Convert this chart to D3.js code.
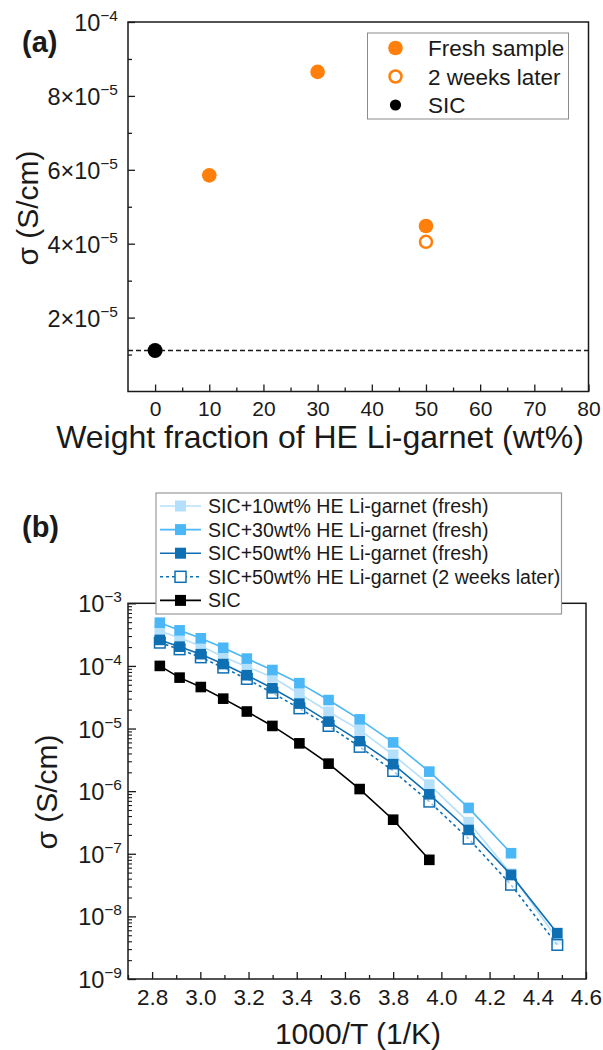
<!DOCTYPE html>
<html>
<head>
<meta charset="utf-8">
<script src="https://cdn.jsdelivr.net/npm/d3@7"></script>
<style>
  body { margin: 0; background: #fff; }
  svg { font-family: "Liberation Sans", Arial, sans-serif; }
</style>
</head>
<body>
<script>
// panel (a): conductivity vs garnet loading
var wtFraction = [10, 30, 50];
var freshSigma = [5.85e-5, 8.65e-5, 4.48e-5];
var agedFraction = [50];
var agedSigma = [4.05e-5];
var sicFraction = [0];
var sicSigma = [1.11e-5];
var aXTicks = [0, 10, 20, 30, 40, 50, 60, 70, 80];
var aYTicks = [2e-5, 4e-5, 6e-5, 8e-5, 1e-4];
var aYTickLabels = [["2\u00d710", "\u22125"], ["4\u00d710", "\u22125"], ["6\u00d710", "\u22125"], ["8\u00d710", "\u22125"], ["10", "\u22124"]];
var aLegend = ["Fresh sample", "2 weeks later", "SIC"];

// panel (b): Arrhenius plot
var invT = [2.832, 2.914, 3.002, 3.095, 3.193, 3.299, 3.411, 3.532, 3.661, 3.800, 3.950, 4.113, 4.289, 4.481];
var sic10 = [3.6e-4, 2.8e-4, 2.08e-4, 1.4e-4, 9.7e-5, 6.6e-5, 3.6e-5, 1.85e-5, 9.5e-6, 3.8e-6, 1.27e-6, 3.2e-7, 4.8e-8, 4.3e-9];
var sic30 = [4.9e-4, 3.7e-4, 2.76e-4, 1.95e-4, 1.31e-4, 8.6e-5, 5.3e-5, 2.85e-5, 1.4e-5, 6.0e-6, 2.05e-6, 5.4e-7, 1.02e-7];
var sic50 = [2.6e-4, 2.03e-4, 1.54e-4, 1.07e-4, 7.1e-5, 4.4e-5, 2.5e-5, 1.29e-5, 6.3e-6, 2.7e-6, 8.9e-7, 2.4e-7, 4.6e-8, 5.4e-9];
var sic50aged = [2.35e-4, 1.84e-4, 1.37e-4, 9.4e-5, 6.2e-5, 3.7e-5, 2.1e-5, 1.1e-5, 5.1e-6, 2.1e-6, 6.8e-7, 1.74e-7, 3.2e-8, 3.5e-9];
var sicOnly = [1.0e-4, 6.5e-5, 4.6e-5, 3.0e-5, 1.87e-5, 1.1e-5, 5.8e-6, 2.75e-6, 1.08e-6, 3.5e-7, 8e-8];
var bXTicks = [2.8, 3.0, 3.2, 3.4, 3.6, 3.8, 4.0, 4.2, 4.4, 4.6];
var bYTicks = [1e-9, 1e-8, 1e-7, 1e-6, 1e-5, 1e-4, 1e-3];
var bYTickLabels = ["\u22129", "\u22128", "\u22127", "\u22126", "\u22125", "\u22124", "\u22123"];
var bLegend = ["SIC+10wt% HE Li-garnet (fresh)", "SIC+30wt% HE Li-garnet (fresh)", "SIC+50wt% HE Li-garnet (fresh)", "SIC+50wt% HE Li-garnet (2 weeks later)", "SIC"];

var orange = "#ff7f0a";
var ink = "#1a1a1a";

var svg = d3.select("body").append("svg")
  .attr("width", 603)
  .attr("height", 1050);

// axis groups get font settings from the svg, not d3's defaults
function plainAxis(g, tickWidth) {
  g.attr("font-family", null).attr("font-size", null);
  g.select(".domain").remove();
  g.selectAll("line").attr("stroke", ink).attr("stroke-width", tickWidth);
}

function superLabel(sel, base, sup, baseSize, supSize) {
  sel.text(null).style("font-size", baseSize + "px");
  sel.append("tspan").text(base);
  sel.append("tspan").style("font-size", supSize + "px").attr("dy", -10).text(sup);
}

// ---------- panel (a) ----------
var xA = d3.scaleLinear().domain([-5, 80]).range([128, 588.5]);
var yA = d3.scaleLinear().domain([0, 1e-4]).range([391.5, 22]);

var gA = svg.append("g");

gA.append("rect")
  .attr("x", xA.range()[0]).attr("y", yA.range()[1])
  .attr("width", xA.range()[1] - xA.range()[0])
  .attr("height", yA.range()[0] - yA.range()[1])
  .attr("fill", "none").attr("stroke", ink).attr("stroke-width", 1.5);

// minor ticks
gA.append("g")
  .attr("transform", "translate(0," + yA.range()[0] + ")")
  .call(d3.axisBottom(xA).tickValues(d3.range(5, 80, 10)).tickSize(-4).tickFormat(""))
  .call(plainAxis, 1.3);
gA.append("g")
  .attr("transform", "translate(" + xA.range()[0] + ",0)")
  .call(d3.axisLeft(yA).tickValues([1e-5, 3e-5, 5e-5, 7e-5, 9e-5]).tickSize(-4).tickFormat(""))
  .call(plainAxis, 1.3);

// major x
gA.append("g")
  .attr("transform", "translate(0," + yA.range()[0] + ")")
  .call(d3.axisBottom(xA).tickValues(aXTicks).tickSize(-7).tickPadding(10))
  .call(plainAxis, 1.3)
  .call(function(g){
    g.selectAll("text").style("font-size", "21px").attr("fill", ink);
  });

// major y
gA.append("g")
  .attr("transform", "translate(" + xA.range()[0] + ",0)")
  .call(d3.axisLeft(yA).tickValues(aYTicks).tickSize(-7))
  .call(plainAxis, 1.3)
  .call(function(g){
    g.selectAll("text")
      .attr("fill", ink).attr("x", -10).attr("dy", "0.36em")
      .each(function(d, i){ superLabel(d3.select(this), aYTickLabels[i][0], aYTickLabels[i][1], 23.5, 15.5); });
  });

// SIC reference line
gA.append("line")
  .attr("x1", xA.range()[0]).attr("x2", xA.range()[1])
  .attr("y1", yA(sicSigma[0])).attr("y2", yA(sicSigma[0]))
  .attr("stroke", ink).attr("stroke-width", 1.5).attr("stroke-dasharray", "5,3");

gA.selectAll("circle.fresh").data(wtFraction).enter().append("circle")
  .attr("class", "fresh")
  .attr("cx", function(d){ return xA(d); })
  .attr("cy", function(d, i){ return yA(freshSigma[i]); })
  .attr("r", 7.3).attr("fill", orange);

gA.selectAll("circle.aged").data(agedFraction).enter().append("circle")
  .attr("class", "aged")
  .attr("cx", function(d){ return xA(d); })
  .attr("cy", function(d, i){ return yA(agedSigma[i]); })
  .attr("r", 6).attr("fill", "#fff").attr("stroke", orange).attr("stroke-width", 2.5);

gA.selectAll("circle.sic").data(sicFraction).enter().append("circle")
  .attr("class", "sic")
  .attr("cx", function(d){ return xA(d); })
  .attr("cy", function(d, i){ return yA(sicSigma[i]); })
  .attr("r", 7.5).attr("fill", "#000");

// legend (a)
var legA = gA.append("g");
legA.append("rect").attr("x", 367.5).attr("y", 33).attr("width", 201).attr("height", 86)
  .attr("fill", "#fff").attr("stroke", "#8c8c8c").attr("stroke-width", 1);
aLegend.forEach(function(name, i){
  var cy = 48 + i * 28.5;
  var c = legA.append("circle").attr("cx", 395.5).attr("cy", cy);
  if (i === 0) c.attr("r", 7.3).attr("fill", orange);
  else if (i === 1) c.attr("r", 6).attr("fill", "#fff").attr("stroke", orange).attr("stroke-width", 2.5);
  else c.attr("r", 5.6).attr("fill", "#000");
  legA.append("text").attr("x", 428).attr("y", cy + 8).style("font-size", "22.5px").attr("fill", ink).text(name);
});

gA.append("text").attr("x", 320).attr("y", 448).attr("text-anchor", "middle")
  .style("font-size", "32px").attr("fill", ink).text("Weight fraction of HE Li-garnet (wt%)");
gA.append("text").attr("transform", "translate(38,208) rotate(-90)").attr("text-anchor", "middle")
  .style("font-size", "30px").attr("fill", ink).text("\u03c3 (S/cm)");
gA.append("text").attr("x", 22).attr("y", 52).style("font-size", "29px").attr("font-weight", "bold")
  .attr("fill", ink).text("(a)");

// ---------- panel (b) ----------
var xB = d3.scaleLinear().domain([2.7, 4.6]).range([128, 586]);
var yB = d3.scaleLog().domain([1e-9, 1e-3]).range([979, 603.3]);

var gB = svg.append("g");

gB.append("rect")
  .attr("x", xB.range()[0]).attr("y", yB.range()[1])
  .attr("width", xB.range()[1] - xB.range()[0])
  .attr("height", yB.range()[0] - yB.range()[1])
  .attr("fill", "none").attr("stroke", ink).attr("stroke-width", 1.5);

var minorX = d3.range(2.7, 4.6, 0.2).map(function(v){ return Math.round(v * 10) / 10; });
gB.append("g")
  .attr("transform", "translate(0," + yB.range()[0] + ")")
  .call(d3.axisBottom(xB).tickValues(minorX).tickSize(-4).tickFormat(""))
  .call(plainAxis, 1.3);

var minorY = yB.ticks().filter(function(v){ return bYTicks.indexOf(v) < 0; });
gB.append("g")
  .attr("transform", "translate(" + xB.range()[0] + ",0)")
  .call(d3.axisLeft(yB).tickValues(minorY).tickSize(-4).tickFormat(""))
  .call(plainAxis, 1.1);

gB.append("g")
  .attr("transform", "translate(0," + yB.range()[0] + ")")
  .call(d3.axisBottom(xB).tickValues(bXTicks).tickSize(-7).tickPadding(10).tickFormat(d3.format(".1f")))
  .call(plainAxis, 1.3)
  .call(function(g){
    g.selectAll("text").style("font-size", "22.5px").attr("fill", ink);
  });

gB.append("g")
  .attr("transform", "translate(" + xB.range()[0] + ",0)")
  .call(d3.axisLeft(yB).tickValues(bYTicks).tickSize(-8))
  .call(plainAxis, 1.3)
  .call(function(g){
    g.selectAll("text")
      .attr("fill", ink).attr("x", -6).attr("dy", "0.36em")
      .each(function(d, i){ superLabel(d3.select(this), "10", bYTickLabels[i], 23.5, 15.5); });
  });

var line = d3.line()
  .x(function(d){ return xB(d[0]); })
  .y(function(d){ return yB(d[1]); });

var series = [
  { name: bLegend[0], vals: sic10, color: "#b5e0fb", open: false, dash: null },
  { name: bLegend[1], vals: sic30, color: "#4cb7f6", open: false, dash: null },
  { name: bLegend[3], vals: sic50aged, color: "#0f6fb3", open: true, dash: "3,3" },
  { name: bLegend[2], vals: sic50, color: "#0f6fb3", open: false, dash: null },
  { name: bLegend[4], vals: sicOnly, color: "#000", open: false, dash: null }
];

series.forEach(function(s){
  var pts = s.vals.map(function(v, i){ return [invT[i], v]; });
  var g = gB.append("g");
  g.append("path").attr("d", line(pts)).attr("fill", "none")
    .attr("stroke", s.color).attr("stroke-width", 1.6)
    .attr("stroke-dasharray", s.dash);
  g.selectAll("rect").data(pts).enter().append("rect")
    .attr("x", function(d){ return xB(d[0]) - 5.3; })
    .attr("y", function(d){ return yB(d[1]) - 5.3; })
    .attr("width", 10.6).attr("height", 10.6)
    .attr("fill", s.open ? "#fff" : s.color)
    .attr("fill-opacity", s.open ? 0.6 : 1)
    .attr("stroke", s.open ? s.color : "none").attr("stroke-width", 1.5);
});

// legend (b)
var legB = gB.append("g");
legB.append("rect").attr("x", 156).attr("y", 493).attr("width", 405.5).attr("height", 121)
  .attr("fill", "#fff").attr("stroke", "#999").attr("stroke-width", 1.2);
var legOrder = [0, 1, 3, 2, 4];
legOrder.forEach(function(k, i){
  var s = series[k];
  var cy = 506 + i * 23.6;
  legB.append("line").attr("x1", 160).attr("x2", 201).attr("y1", cy).attr("y2", cy)
    .attr("stroke", s.color).attr("stroke-width", 1.6).attr("stroke-dasharray", s.dash);
  legB.append("rect").attr("x", 180.5 - 5.5).attr("y", cy - 5.5).attr("width", 11).attr("height", 11)
    .attr("fill", s.open ? "#fff" : s.color)
    .attr("stroke", s.open ? s.color : "none").attr("stroke-width", 1.5);
  legB.append("text").attr("x", 208).attr("y", cy + 7).style("font-size", "19.6px").attr("fill", ink).text(s.name);
});

gB.append("text").attr("x", 358).attr("y", 1044).attr("text-anchor", "middle")
  .style("font-size", "30px").attr("fill", ink).text("1000/T (1/K)");
gB.append("text").attr("transform", "translate(57,792) rotate(-90)").attr("text-anchor", "middle")
  .style("font-size", "30px").attr("fill", ink).text("\u03c3 (S/cm)");
gB.append("text").attr("x", 22).attr("y", 537).style("font-size", "29px").attr("font-weight", "bold")
  .attr("fill", ink).text("(b)");
</script>
</body>
</html>
